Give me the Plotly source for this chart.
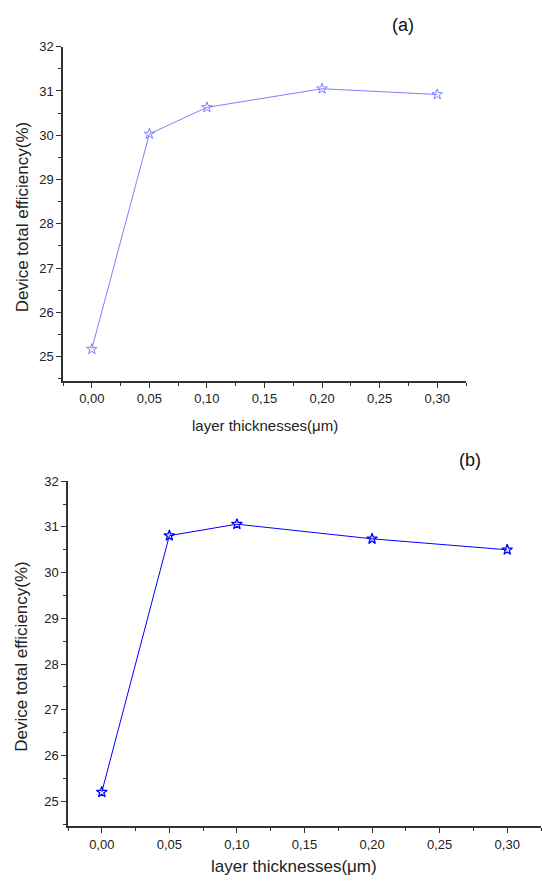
import plotly.graph_objects as go

thickness = [0.00, 0.05, 0.10, 0.20, 0.30]
eff_a = [25.17, 30.03, 30.63, 31.05, 30.92]
eff_b = [25.20, 30.81, 31.06, 30.74, 30.50]
x_tickvals = [0.00, 0.05, 0.10, 0.15, 0.20, 0.25, 0.30]
x_ticktext = ["0,00", "0,05", "0,10", "0,15", "0,20", "0,25", "0,30"]
y_tickvals = [25, 26, 27, 28, 29, 30, 31, 32]

W, H = 542, 882
fig = go.Figure()
fig.add_trace(go.Scatter(x=thickness, y=eff_a, mode="lines+markers", xaxis="x", yaxis="y",
                         line=dict(color="#8080ff", width=1),
                         marker=dict(symbol="star-open", size=8, color="#8080ff", line=dict(width=1)),
                         showlegend=False))
fig.add_trace(go.Scatter(x=thickness, y=eff_b, mode="lines+markers", xaxis="x2", yaxis="y2",
                         line=dict(color="#0000ff", width=1),
                         marker=dict(symbol="star-open", size=8, color="#0000ff", line=dict(width=1.3)),
                         showlegend=False))

font = "Liberation Sans, Arial, sans-serif"
def xax(domain, anchor, size):
    return dict(domain=domain, anchor=anchor, range=[-0.025, 0.325], tickvals=x_tickvals, ticktext=x_ticktext,
                showgrid=False, zeroline=False, showline=True, linecolor="#333", linewidth=1.5,
                ticks="outside", ticklen=5, tickwidth=1.3, tickcolor="#333",
                minor=dict(dtick=0.025, tick0=0, ticks="outside", ticklen=3, tickwidth=1.2, tickcolor="#333"),
                tickfont=dict(family=font, size=size, color="#222"))
def yax(domain, anchor, size, lo):
    return dict(domain=domain, anchor=anchor, range=[lo, 32], tickvals=y_tickvals,
                showgrid=False, zeroline=False, showline=True, linecolor="#333", linewidth=1.5,
                ticks="outside", ticklen=5, tickwidth=1.3, tickcolor="#333",
                minor=dict(dtick=0.5, tick0=25, ticks="outside", ticklen=3, tickwidth=1.2, tickcolor="#333"),
                tickfont=dict(family=font, size=size, color="#222"))

fig.update_layout(
    width=W, height=H, margin=dict(l=0, r=0, t=0, b=0),
    paper_bgcolor="white", plot_bgcolor="white",
    xaxis=xax([63/W, 466/W], "y", 13),
    yaxis=yax([1-377/H, 1-40/H], "x", 13, 24.45),
    xaxis2=xax([68/W, 541/W], "y2", 13),
    yaxis2=yax([1-826/H, 1-478/H], "x2", 13, 24.45),
    annotations=[
        dict(text="(a)", x=403/W, y=1-18/H, xref="paper", yref="paper", showarrow=False,
             xanchor="center", yanchor="middle", font=dict(family=font, size=18, color="#111")),
        dict(text="(b)", x=470/W, y=1-457/H, xref="paper", yref="paper", showarrow=False,
             xanchor="center", yanchor="middle", font=dict(family=font, size=18, color="#111")),
        dict(text="Device total efficiency(%)", textangle=-90, x=22/W, y=1-212/H, xref="paper", yref="paper",
             xanchor="center", yanchor="middle", showarrow=False, font=dict(family=font, size=17, color="#222")),
        dict(text="Device total efficiency(%)", textangle=-90, x=22/W, y=1-655/H, xref="paper", yref="paper",
             xanchor="center", yanchor="middle", showarrow=False, font=dict(family=font, size=17, color="#222")),
        dict(text="layer thicknesses(\u03bcm)", x=265/W, y=1-422/H, xref="paper", yref="paper",
             xanchor="center", yanchor="middle", showarrow=False, font=dict(family=font, size=15, color="#222")),
        dict(text="layer thicknesses(\u03bcm)", x=294/W, y=1-866/H, xref="paper", yref="paper",
             xanchor="center", yanchor="middle", showarrow=False, font=dict(family=font, size=17, color="#222")),
    ],
)
fig.write_html("out.html", config={"displayModeBar": False},
               post_script="document.body.style.margin='0';document.body.style.overflow='hidden';")
